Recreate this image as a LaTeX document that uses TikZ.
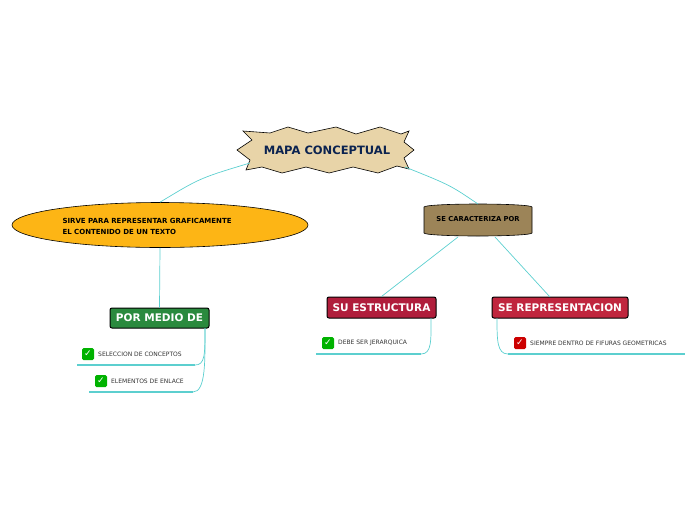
\documentclass[tikz,border=0pt]{standalone}
\usepackage{fontspec}
\setmainfont{DejaVu Sans}
\usetikzlibrary{shapes.geometric}
\definecolor{teal1}{HTML}{5CCFCF}
\definecolor{tan1}{HTML}{E8D4A8}
\definecolor{navy1}{HTML}{0B2350}
\definecolor{orng}{HTML}{FDB515}
\definecolor{brwn}{HTML}{9C8458}
\definecolor{grn}{HTML}{2A8A3E}
\definecolor{red1}{HTML}{B01E3C}
\definecolor{red2}{HTML}{C0263E}
\begin{document}
\begin{tikzpicture}[x=1pt,y=-1pt,
 conn/.style={teal1,line width=0.7pt},
 box/.style={draw=black,line width=1pt,rounded corners=2pt,text=white,font=\bfseries\fontsize{10.5}{12}\selectfont,inner sep=0pt},
 sub/.style={font=\fontsize{6}{7}\selectfont,text=black!80,anchor=west,inner sep=0pt},
 chk/.style={rounded corners=1.5pt,minimum size=12pt,inner sep=0pt,text=white,font=\bfseries\fontsize{9}{9}\selectfont}]
\useasboundingbox (0,0) rectangle (696,520);
% star
\fill[tan1,draw=black,line width=0.6pt] (237,150) -- (252,140) -- (243,131) -- (270,133) -- (288,127) -- (308,133) -- (336,127) -- (356,134) -- (380,127) -- (401,134) -- (409,131) -- (404,142) -- (414,150) -- (404,158) -- (409,169) -- (397,166) -- (378,173) -- (353,167) -- (329,173) -- (306,167) -- (282,173) -- (262,167) -- (246,170) -- (250,160) -- cycle;
\node[font=\bfseries\fontsize{11.5}{12}\selectfont,text=navy1] (mc) at (327,150) {MAPA CONCEPTUAL};
\coordinate (mcl) at (250,163);
\coordinate (mcr) at (405,167);
% ellipse
\node[ellipse,draw=black,fill=orng,minimum width=296pt,minimum height=45pt,line width=0.6pt] (el) at (160,225) {};
\node[font=\bfseries\fontsize{7}{11}\selectfont,align=left,anchor=west] (elt) at (59,226) {SIRVE PARA REPRESENTAR GRAFICAMENTE\\EL CONTENIDO DE UN TEXTO};
% cylinder
\fill[brwn,draw=black,line width=0.6pt] (424,207) arc[x radius=54,y radius=3,start angle=180,end angle=360] -- (532,233) arc[x radius=54,y radius=3,start angle=0,end angle=180] -- cycle;
\node[font=\bfseries\fontsize{6.8}{8}\selectfont] (cy) at (478,219) {SE CARACTERIZA POR};
% boxes
\node[box,fill=grn,minimum width=99pt,minimum height=20pt] (pm) at (159.5,318) {POR MEDIO DE};
\node[box,fill=red1,minimum width=109pt,minimum height=21pt] (se) at (381.5,307.5) {SU ESTRUCTURA};
\node[box,fill=red2,minimum width=136pt,minimum height=21pt] (sr) at (560,307.5) {SE REPRESENTACION};
% connectors
\draw[conn] (mcl) .. controls (200,178) .. (el.north);
\draw[conn] (mcr) .. controls (450,185) .. (478,204);
\draw[conn] (el.south) -- (pm.north);
\draw[conn] (458,237) -- (se.north);
\draw[conn] (495,237) -- (550,297);
% subtopics
\node[chk,fill=green!70!black] (c1) at (88,354) {✓};
\node[sub] (t1) at (98,354) {SELECCION DE CONCEPTOS};
\draw[conn,line width=1.2pt] (77,365) -- (195,365);
\draw[conn] (195,365) .. controls (205,365) and (205,355) .. (205,328);
\node[chk,fill=green!70!black] (c2) at (101,381) {✓};
\node[sub] (t2) at (111,381) {ELEMENTOS DE ENLACE};
\draw[conn,line width=1.2pt] (89,392) -- (193,392);
\draw[conn] (193,392) .. controls (206,392) and (205,360) .. (205,328);
\node[chk,fill=green!70!black] (c3) at (328,343) {✓};
\node[sub] (t3) at (338,343) {DEBE SER JERARQUICA};
\draw[conn,line width=1.2pt] (316,354) -- (421,354);
\draw[conn] (421,354) .. controls (432,354) and (431,340) .. (431,318);
\node[chk,fill=red!80!black] (c4) at (520,343) {✓};
\node[sub] (t4) at (530,343) {SIEMPRE DENTRO DE FIFURAS GEOMETRICAS};
\draw[conn,line width=1.2pt] (508,354) -- (685,354);
\draw[conn] (508,354) .. controls (497,354) and (497,340) .. (497,318);
\end{tikzpicture}
\end{document}
